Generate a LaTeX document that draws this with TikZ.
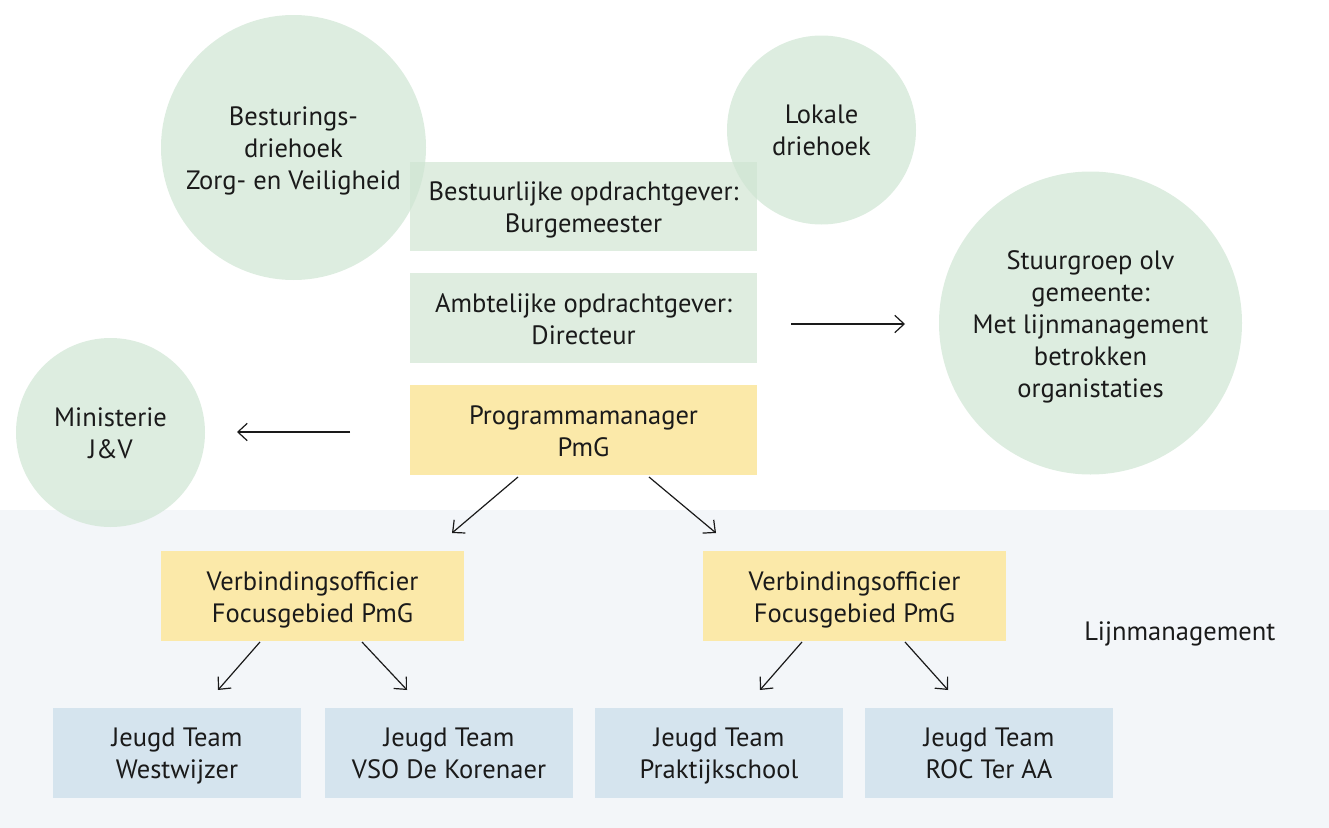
\documentclass[tikz,border=0pt]{standalone}
\usepackage{fontspec}
\setmainfont{PT Sans}
\usetikzlibrary{arrows.meta}
\definecolor{bgband}{HTML}{F3F6F9}
\definecolor{circg}{HTML}{CFE5D3}
\definecolor{boxg}{HTML}{DFEDE0}
\definecolor{boxy}{HTML}{FBE9A9}
\definecolor{boxb}{HTML}{D5E4EE}
\definecolor{txt}{HTML}{1A1A1A}
\tikzset{
  lbl/.style={text=txt, font=\fontsize{19.9}{24}\selectfont, align=center, inner sep=0pt,
    execute at begin node=\strut, execute at end node=\strut},
  gbox/.style={fill=boxg, draw=none},
  ybox/.style={fill=boxy, draw=none},
  bbox/.style={fill=boxb, draw=none},
  circ/.style={fill=circg, fill opacity=0.7, draw=none},
  arr/.style={draw=txt, line width=0.9pt, -{Straight Barb[length=7pt,width=13pt,line width=0.9pt]}},
}
\begin{document}
\begin{tikzpicture}[x=0.75pt,y=-0.75pt]
\useasboundingbox (0,0) rectangle (1329,828);
\fill[bgband] (0,510) rectangle (1329,828);
% boxes
\fill[gbox] (410,162) rectangle (757,251);
\fill[gbox] (410,273) rectangle (757,363);
\fill[ybox] (410,385) rectangle (757,475);
\fill[ybox] (161,551) rectangle (464,641);
\fill[ybox] (703,551) rectangle (1006,641);
\fill[bbox] (53,708) rectangle (301,798);
\fill[bbox] (325,708) rectangle (573,798);
\fill[bbox] (595,708) rectangle (843,798);
\fill[bbox] (865,708) rectangle (1113,798);
% circles
\fill[circ] (293.5,147.5) circle[radius=132.5*0.75pt];
\fill[circ] (821.5,130) circle[radius=94.5*0.75pt];
\fill[circ] (1090.5,323) circle[radius=151.5*0.75pt];
\fill[circ] (110.5,432.5) circle[radius=94.5*0.75pt];
% text nodes
\node[lbl] (bes) at (293.5,153) {Besturings-\\driehoek\\Zorg- en Veiligheid};
\node[lbl] (lok) at (821.5,135.5) {Lokale\\driehoek};
\node[lbl] (stu) at (1090.5,328.5) {Stuurgroep olv\\gemeente:\\Met lijnmanagement\\betrokken\\organistaties};
\node[lbl] (min) at (110.5,438) {Ministerie\\J\&V};
\node[lbl] (bur) at (583.5,212) {Bestuurlijke opdrachtgever:\\Burgemeester};
\node[lbl] (amb) at (583.5,323.5) {Ambtelijke opdrachtgever:\\Directeur};
\node[lbl] (pm) at (583.5,435.5) {Programmamanager\\PmG};
\node[lbl] (vl) at (312.5,601.5) {Verbindingsofficier\\Focusgebied PmG};
\node[lbl] (vr) at (854.5,601.5) {Verbindingsofficier\\Focusgebied PmG};
\node[lbl] (j1) at (177,758) {Jeugd Team\\Westwijzer};
\node[lbl] (j2) at (449,758) {Jeugd Team\\VSO De Korenaer};
\node[lbl] (j3) at (719,758) {Jeugd Team\\Praktijkschool};
\node[lbl] (j4) at (989,758) {Jeugd Team\\ROC Ter AA};
\node[lbl, anchor=west] (lijn) at (1084,634.5) {Lijnmanagement};
% connector endpoints
\coordinate (a1s) at (791,324); \coordinate (a1e) at (905,324);
\coordinate (a2s) at (350,432); \coordinate (a2e) at (237,432);
\coordinate (a3s) at (518,477); \coordinate (a3e) at (452,533);
\coordinate (a4s) at (649,477); \coordinate (a4e) at (716,533);
\coordinate (a5s) at (260,642); \coordinate (a5e) at (218,690);
\coordinate (a6s) at (362,642); \coordinate (a6e) at (407,690);
\coordinate (a7s) at (802,642); \coordinate (a7e) at (760,690);
\coordinate (a8s) at (905,642); \coordinate (a8e) at (948,690);
\draw[arr] (a1s) -- (a1e);
\draw[arr] (a2s) -- (a2e);
\draw[arr] (a3s) -- (a3e);
\draw[arr] (a4s) -- (a4e);
\draw[arr] (a5s) -- (a5e);
\draw[arr] (a6s) -- (a6e);
\draw[arr] (a7s) -- (a7e);
\draw[arr] (a8s) -- (a8e);
\end{tikzpicture}
\end{document}
